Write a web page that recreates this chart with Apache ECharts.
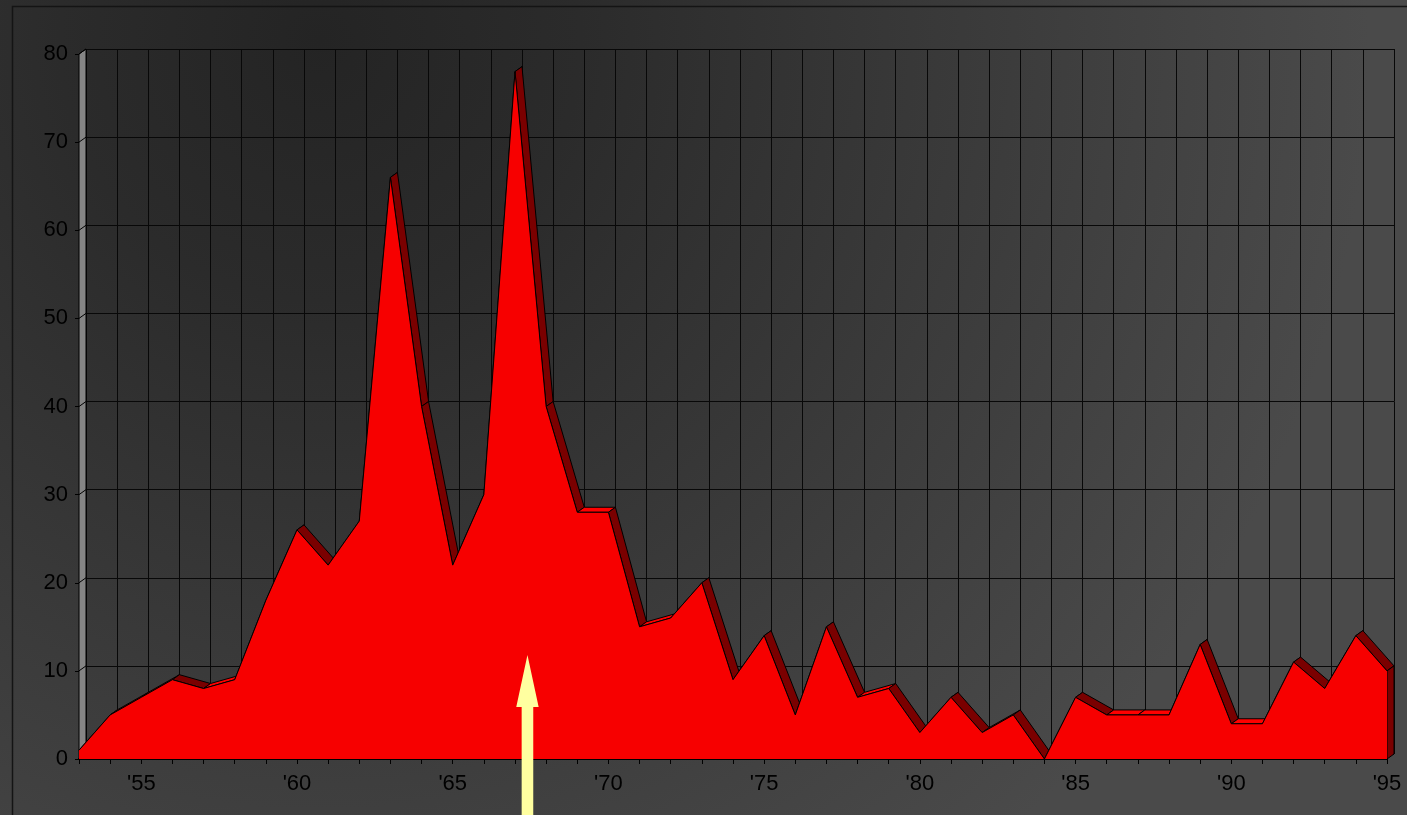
<!DOCTYPE html>
<html><head><meta charset="utf-8">
<script src="https://cdn.jsdelivr.net/npm/echarts@6/dist/echarts.min.js"></script>
<style>
html,body{margin:0;padding:0;background:#3a3a3a;}
#c{width:1407px;height:815px;background:radial-gradient(circle at 320px 40px,#242424 0px,#2b2b2b 260px,#4a4a4a 1050px);}
</style></head><body><div id="c"></div>
<script>
const years = [1953,1954,1955,1956,1957,1958,1959,1960,1961,1962,1963,1964,1965,1966,1967,1968,1969,1970,1971,1972,1973,1974,1975,1976,1977,1978,1979,1980,1981,1982,1983,1984,1985,1986,1987,1988,1989,1990,1991,1992,1993,1994,1995];
const values = [1,5,7,9,8,9,18,26,22,27,66,40,22,30,78,40,28,28,15,16,20,9,14,5,15,7,8,3,7,3,5,0,7,5,5,5,13,4,4,11,8,14,10];
const yTicks = [0,10,20,30,40,50,60,70,80];
const arrowAt = [1967.4, 11.8];

const DX = 7, DY = -5;
const n = years.length;
const pts = years.map((y, i) => [y, values[i]]);
const segs = [];
for (let i = 0; i < n - 1; i++) segs.push([years[i], values[i], years[i + 1], values[i + 1]]);
segs.push([years[n - 1], values[n - 1], years[n - 1], 0]);

function renderFace(params, api) {
  const a = api.coord([api.value(0), api.value(1)]);
  const b = api.coord([api.value(2), api.value(3)]);
  const down = api.value(3) < api.value(1);
  return {
    type: 'polygon',
    shape: { points: [a, b, [b[0] + DX, b[1] + DY], [a[0] + DX, a[1] + DY]] },
    style: { fill: down ? '#7a0000' : '#ff0000', stroke: '#000', lineWidth: 1 }
  };
}
function renderWall(params, api) {
  const x = api.value(0);
  const b = api.coord([x, api.value(1)]);
  const t = api.coord([x, api.value(2)]);
  const children = [{
    type: 'polygon',
    shape: { points: [b, t, [t[0] + DX, t[1] + DY], [b[0] + DX, b[1] + DY]] },
    style: { fill: '#858585', stroke: '#000', lineWidth: 1 }
  }];
  yTicks.forEach(v => {
    const p = api.coord([x, v]);
    children.push({ type: 'line', shape: { x1: p[0], y1: p[1], x2: p[0] + DX, y2: p[1] + DY }, style: { stroke: '#000', lineWidth: 1 } });
  });
  return { type: 'group', children };
}
function renderArrow(params, api) {
  const tip = api.coord([api.value(0), api.value(1)]);
  const H = api.getHeight();
  const hw = 11.2, sw = 5.8, hh = 52;
  return {
    type: 'polygon',
    shape: { points: [tip, [tip[0] + hw, tip[1] + hh], [tip[0] + sw, tip[1] + hh], [tip[0] + sw, H + 5], [tip[0] - sw, H + 5], [tip[0] - sw, tip[1] + hh], [tip[0] - hw, tip[1] + hh]] },
    style: { fill: '#ffffa0' }
  };
}

const chart = echarts.init(document.getElementById('c'), null, { renderer: 'canvas' });
const font = '"Liberation Sans", Arial, sans-serif';
chart.setOption({
  backgroundColor: 'transparent',
  animation: false,
  graphic: [{
    type: 'rect', z: -1,
    shape: { x: 12.5, y: 6.5, width: 1420, height: 850 },
    style: { fill: 'none', stroke: '#141414', lineWidth: 1.5 }
  }],
  grid: [
    { left: 79, top: 54, width: 1308, height: 705 },
    { left: 86, top: 49, width: 1308, height: 705 }
  ],
  xAxis: [
    {
      gridIndex: 0, type: 'value', min: 1953, max: 1995, interval: 1,
      axisLine: { show: true, lineStyle: { color: '#000', width: 2 } },
      axisTick: { show: true, length: 5, lineStyle: { color: '#000', width: 1 } },
      splitLine: { show: false },
      axisLabel: {
        margin: 14, color: '#000', fontSize: 22, fontFamily: font,
        formatter: v => (v % 5 === 0 ? "'" + String(v).slice(2) : '')
      }
    },
    {
      gridIndex: 1, type: 'value', min: 1953, max: 1995, interval: 1,
      axisLine: { show: false }, axisTick: { show: false }, axisLabel: { show: false },
      splitLine: { show: true, lineStyle: { color: '#080808', width: 1 } }
    }
  ],
  yAxis: [
    {
      gridIndex: 0, type: 'value', min: 0, max: 80, interval: 10,
      axisLine: { show: true, lineStyle: { color: '#000', width: 1 } },
      axisTick: { show: true, length: 4, lineStyle: { color: '#000', width: 1 } },
      splitLine: { show: false },
      axisLabel: { margin: 11, color: '#000', fontSize: 22, fontFamily: font }
    },
    {
      gridIndex: 1, type: 'value', min: 0, max: 80, interval: 10,
      axisLine: { show: false }, axisTick: { show: false }, axisLabel: { show: false },
      splitLine: { show: true, lineStyle: { color: '#080808', width: 1 } }
    }
  ],
  series: [
    {
      type: 'custom', name: 'wall', xAxisIndex: 0, yAxisIndex: 0, z: 1,
      renderItem: renderWall, data: [[years[0], yTicks[0], yTicks[yTicks.length - 1]]], silent: true
    },
    {
      type: 'custom', name: 'faces', xAxisIndex: 0, yAxisIndex: 0, z: 2,
      renderItem: renderFace, data: segs, silent: true
    },
    {
      type: 'line', name: 'front', xAxisIndex: 0, yAxisIndex: 0, z: 3,
      data: pts, symbol: 'none', smooth: false,
      lineStyle: { color: '#000', width: 1 },
      areaStyle: { color: '#f70000', opacity: 1 },
      silent: true
    },
    {
      type: 'custom', name: 'arrow', xAxisIndex: 0, yAxisIndex: 0, z: 5,
      renderItem: renderArrow, data: [arrowAt], silent: true, clip: false
    }
  ]
});
</script></body></html>
